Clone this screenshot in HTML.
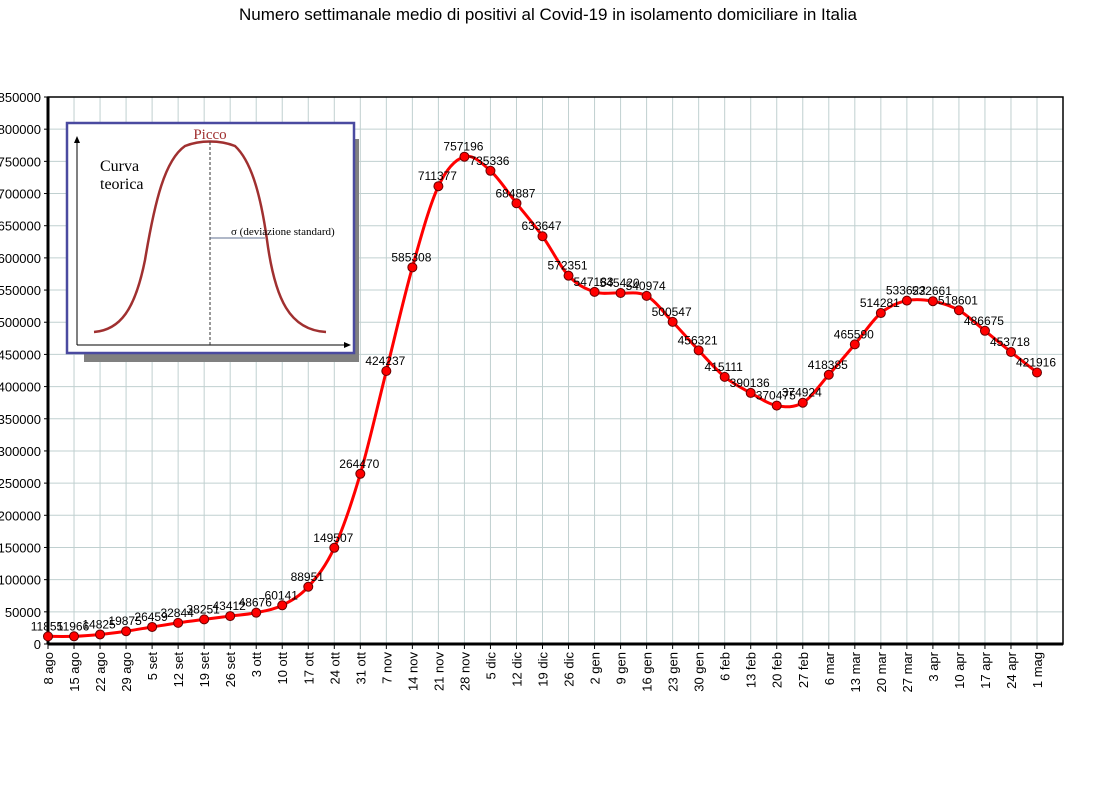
<!DOCTYPE html>
<html><head><meta charset="utf-8"><style>
body{margin:0;background:#fff;width:1095px;height:805px;overflow:hidden}
text{font-family:"Liberation Sans",Arial,sans-serif}
</style></head><body>
<svg id="chart" width="1095" height="805" xmlns="http://www.w3.org/2000/svg">
<text x="548" y="20" font-size="17" text-anchor="middle" fill="#000">Numero settimanale medio di positivi al Covid-19  in isolamento domiciliare in Italia</text>
<g id="grid"></g><g id="axes"></g><g id="inset"></g><g id="series"></g><g id="labels"></g>
</svg>
<script>
const categories=["8 ago","15 ago","22 ago","29 ago","5 set","12 set","19 set","26 set","3 ott","10 ott","17 ott","24 ott","31 ott","7 nov","14 nov","21 nov","28 nov","5 dic","12 dic","19 dic","26 dic","2 gen","9 gen","16 gen","23 gen","30 gen","6 feb","13 feb","20 feb","27 feb","6 mar","13 mar","20 mar","27 mar","3 apr","10 apr","17 apr","24 apr","1 mag"];
const values=[11855,11966,14825,19875,26459,32844,38251,43412,48676,60141,88951,149507,264470,424237,585308,711377,757196,735336,684887,633647,572351,547183,545420,540974,500547,456321,415111,390136,370475,374924,418385,465590,514281,533622,532661,518601,486675,453718,421916];
const yTicks=[0,50000,100000,150000,200000,250000,300000,350000,400000,450000,500000,550000,600000,650000,700000,750000,800000,850000];
const NS="http://www.w3.org/2000/svg";
const L=48,R=1063,T=97,B=644,step=(1037-48)/38;
const xs=i=>L+i*step, ys=v=>B-(v/850000)*(B-T);
function mk(tag,attrs,parent,txt){const e=document.createElementNS(NS,tag);for(const k in attrs)e.setAttribute(k,attrs[k]);if(txt!==undefined)e.textContent=txt;document.getElementById(parent).appendChild(e);return e;}
yTicks.forEach(t=>{
 const g=mk('line',{x1:L,x2:R,y1:ys(t),y2:ys(t),stroke:'#c0d0d0','stroke-width':1},'grid');
 
 
 const tl=mk('text',{x:41,y:ys(t)+5,'font-size':13,'text-anchor':'end',fill:'#000'},'axes',String(t));
 
 
 const tk=mk('line',{x1:L-4,x2:L,y1:ys(t),y2:ys(t),stroke:'#000'},'axes');
 
 
});
categories.forEach((c,i)=>{
 const g=mk('line',{x1:xs(i),x2:xs(i),y1:T,y2:B,stroke:'#c0d0d0','stroke-width':1},'grid');
 
 
 const tk=mk('line',{x1:xs(i),x2:xs(i),y1:B,y2:B+5,stroke:'#000'},'axes');
 
 
 const tl=mk('text',{x:0,y:0,'font-size':13,'text-anchor':'end',fill:'#000',transform:`translate(${xs(i)+5},${B+8}) rotate(-90)`},'axes',c);
 
 
});
const fr=mk('rect',{x:L,y:T,width:R-L,height:B-T,fill:'none',stroke:'#000','stroke-width':1.5},'axes');


const ya=mk('line',{x1:L,x2:L,y1:T,y2:B,stroke:'#000','stroke-width':3},'axes');


const xa=mk('line',{x1:L,x2:R,y1:B,y2:B,stroke:'#000','stroke-width':3},'axes');


const ins=document.getElementById('inset');
ins.innerHTML=`<rect x="84" y="139" width="275" height="223" fill="#808080"/>
<rect x="67" y="123" width="287" height="230" fill="#fff" stroke="#4a4aa0" stroke-width="2.5"/>
<line x1="77" y1="345" x2="77" y2="140" stroke="#000"/><polygon points="77,136 74,143 80,143" fill="#000"/>
<line x1="77" y1="345" x2="346" y2="345" stroke="#000"/><polygon points="351,345 344,342 344,348" fill="#000"/>
<path d="M94,332 C120,330 135,310 145,260 C155,200 165,160 185,146 C200,140 220,140 235,146 C250,160 260,190 267,240 C275,300 290,330 326,332" fill="none" stroke="#a03030" stroke-width="2.5"/>
<line x1="210" y1="142" x2="210" y2="345" stroke="#333" stroke-dasharray="3,2"/>
<line x1="210" y1="238" x2="265" y2="238" stroke="#607090"/>
<text x="210" y="139" font-size="15" fill="#a03030" text-anchor="middle" style="font-family:'Liberation Serif',serif">Picco</text>
<text x="100" y="171" font-size="16" fill="#000" style="font-family:'Liberation Serif',serif">Curva</text>
<text x="100" y="189" font-size="16" fill="#000" style="font-family:'Liberation Serif',serif">teorica</text>
<text x="231" y="235" font-size="11" fill="#000" style="font-family:'Liberation Serif',serif">σ  (deviazione standard)</text>`;


const P=values.map((v,i)=>[xs(i),ys(v)]);
let d=`M${P[0][0]},${P[0][1]}`;
for(let i=0;i<P.length-1;i++){
 const p0=P[i-1]||P[i],p1=P[i],p2=P[i+1],p3=P[i+2]||P[i+1];
 d+=` C${p1[0]+(p2[0]-p0[0])/6},${p1[1]+(p2[1]-p0[1])/6} ${p2[0]-(p3[0]-p1[0])/6},${p2[1]-(p3[1]-p1[1])/6} ${p2[0]},${p2[1]}`;
}
const ln=mk('path',{d:d,fill:'none',stroke:'#ff0000','stroke-width':3},'series');


values.forEach((v,i)=>{
 const c=mk('circle',{cx:xs(i),cy:ys(v),r:4.5,fill:'#ff0000',stroke:'#600','stroke-width':1},'series');
 
 
 const t=mk('text',{x:xs(i)-1,y:ys(v)-6,'font-size':12,'text-anchor':'middle',fill:'#000'},'labels',String(v));
 
 
});
</script>
</body></html>
